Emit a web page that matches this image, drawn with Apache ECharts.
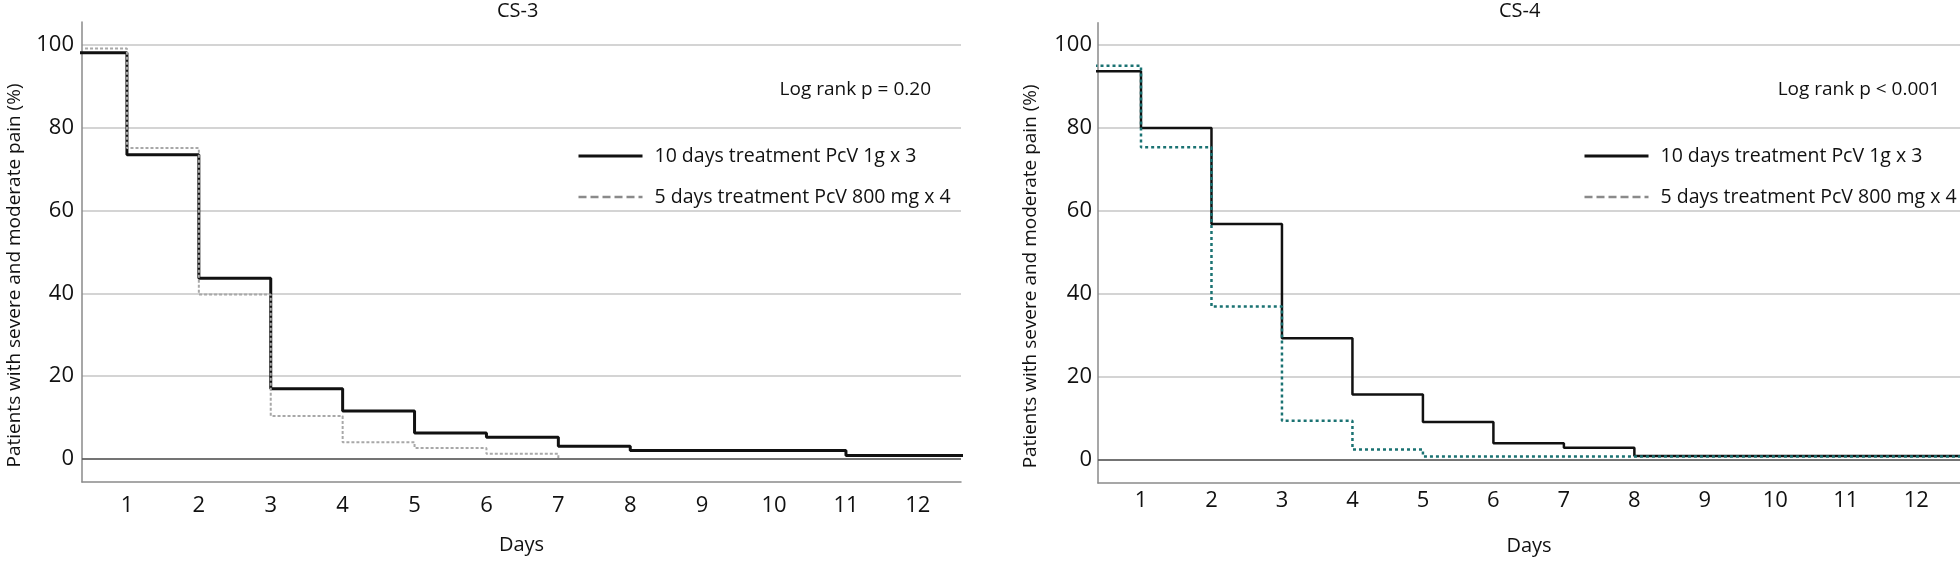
<!DOCTYPE html>
<html>
<head>
<meta charset="utf-8">
<script src="https://cdn.jsdelivr.net/npm/echarts@6/dist/echarts.min.js"></script>
<style>
html,body{margin:0;padding:0;background:#fff;}
#chart{width:1960px;height:561px;}
</style>
</head>
<body>
<div id="chart"></div>
<script>
// ---- data ----
const seriesNames = ['10 days treatment PcV 1g x 3', '5 days treatment PcV 800 mg x 4'];
const panelTitles = ['CS-3', 'CS-4'];
const pValueTexts = ['Log rank p = 0.20', 'Log rank p < 0.001'];
const yAxisName = 'Patients with severe and moderate pain (%)';
const xAxisName = 'Days';
const xTickValues = [1, 2, 3, 4, 5, 6, 7, 8, 9, 10, 11, 12];
const yTickValues = [0, 20, 40, 60, 80, 100];

// CS-3
const cs3LongDays   = [0, 1, 2, 3, 4, 5, 6, 7, 8, 11, 13];
const cs3LongValues = [98, 73.4, 43.6, 17.0, 11.6, 6.3, 5.3, 3.1, 2.1, 0.9, 0.9];
const cs3ShortDays   = [0, 1, 2, 3, 4, 5, 6, 7];
const cs3ShortValues = [99, 75, 39.7, 10.4, 4.1, 2.7, 1.3, 0];
// CS-4
const cs4LongDays   = [0, 1, 2, 3, 4, 5, 6, 7, 8, 13];
const cs4LongValues = [93.7, 80, 56.9, 29.4, 15.8, 9.2, 4.1, 3.0, 1.0, 1.0];
const cs4ShortDays   = [0, 1, 2, 3, 4, 5, 13];
const cs4ShortValues = [95, 75.4, 37.0, 9.5, 2.6, 0.9, 0.9];

function pairs(xs, ys) { return xs.map((x, i) => [x, ys[i]]); }

const FONT = 'Open Sans';
const grids = [
  { left: 82, width: 879, top: 22, bottom: 79 },
  { left: 1098, right: 0, top: 22.7, bottom: 75.7 }
];
const xRanges = [[0.375, 12.6], [0.39, 12.62]];
const xLabelMargins = [13, 7];
const yLabelMargins = [8, 6];

function xAxisFor(i) {
  return {
    type: 'value', gridIndex: i, min: xRanges[i][0], max: xRanges[i][1],
    name: xAxisName, nameLocation: 'middle', nameGap: 53,
    nameTextStyle: { fontFamily: FONT, fontSize: 20, color: '#111' },
    axisLine: { show: true, onZero: false, lineStyle: { color: '#8a8a8a', width: 1.5 } },
    axisTick: { show: false, customValues: xTickValues },
    axisLabel: { customValues: xTickValues, fontFamily: FONT, fontSize: 22, color: '#111', margin: xLabelMargins[i] },
    splitLine: { show: false }
  };
}
function yAxisFor(i) {
  return {
    type: 'value', gridIndex: i, min: -5.5, max: 105.4,
    name: yAxisName, nameLocation: 'middle', nameGap: 58, nameRotate: 90,
    nameTextStyle: { fontFamily: FONT, fontSize: 19, color: '#111', padding: [0, 47, 0, 0] },
    axisLine: { show: true, lineStyle: { color: '#8a8a8a', width: 1.5 } },
    axisTick: { show: false, customValues: yTickValues },
    axisLabel: { customValues: yTickValues, fontFamily: FONT, fontSize: 22, color: '#111', margin: yLabelMargins[i] },
    splitLine: { show: true, lineStyle: { color: '#d4d4d4', width: 2 } }
  };
}
const zeroLine = {
  silent: true, symbol: 'none', label: { show: false },
  lineStyle: { color: '#555', width: 1.5, type: 'solid' },
  data: [{ yAxis: 0 }], animation: false
};

const option = {
  animation: false,
  backgroundColor: '#fff',
  title: [
    { text: panelTitles[0], left: 497, top: 1, padding: 0, textStyle: { fontFamily: FONT, fontSize: 20, fontWeight: 'normal', color: '#111' } },
    { text: panelTitles[1], left: 1499, top: 1, padding: 0, textStyle: { fontFamily: FONT, fontSize: 20, fontWeight: 'normal', color: '#111' } },
    { text: pValueTexts[0], right: 1029, top: 80, padding: 0, textStyle: { fontFamily: FONT, fontSize: 19, fontWeight: 'normal', color: '#111' } },
    { text: pValueTexts[1], right: 20, top: 80, padding: 0, textStyle: { fontFamily: FONT, fontSize: 19, fontWeight: 'normal', color: '#111' } }
  ],
  legend: [0, 1].map(i => ({
    left: i === 0 ? 572 : 1578, top: 141, orient: 'vertical',
    itemWidth: 64, itemHeight: 24, itemGap: 21,
    textStyle: { fontFamily: FONT, fontSize: 19.5, color: '#111', padding: [0, 0, 0, 7] },
    selectedMode: false,
    data: [
      { name: seriesNames[0], itemStyle: { opacity: 0, borderWidth: 0 }, lineStyle: { color: '#111', width: 3, type: 'solid', opacity: 1 } },
      { name: seriesNames[1], itemStyle: { opacity: 0, borderWidth: 0 }, lineStyle: { color: '#8a8a8a', width: 2.5, type: [8, 4], opacity: 1 } }
    ]
  })),
  grid: grids,
  xAxis: [xAxisFor(0), xAxisFor(1)],
  yAxis: [yAxisFor(0), yAxisFor(1)],
  series: [
    { name: seriesNames[0], type: 'line', xAxisIndex: 0, yAxisIndex: 0, step: 'end', symbol: 'none',
      data: pairs(cs3LongDays, cs3LongValues), lineStyle: { color: '#111', width: 3 }, itemStyle: { color: '#111' },
      markLine: zeroLine, z: 3 },
    { name: seriesNames[1], type: 'line', xAxisIndex: 0, yAxisIndex: 0, step: 'end', symbol: 'none',
      data: pairs(cs3ShortDays, cs3ShortValues), lineStyle: { color: '#a8a8a8', width: 2, type: [3, 2] }, itemStyle: { color: '#a8a8a8' }, z: 4 },
    { name: seriesNames[0], type: 'line', xAxisIndex: 1, yAxisIndex: 1, step: 'end', symbol: 'none',
      data: pairs(cs4LongDays, cs4LongValues), lineStyle: { color: '#111', width: 2.5 }, itemStyle: { color: '#111' },
      markLine: zeroLine, z: 3 },
    { name: seriesNames[1], type: 'line', xAxisIndex: 1, yAxisIndex: 1, step: 'end', symbol: 'none',
      data: pairs(cs4ShortDays, cs4ShortValues), lineStyle: { color: '#1a7272', width: 2.5, type: [3, 3] }, itemStyle: { color: '#1a7272' }, z: 4 }
  ]
};
const chart = echarts.init(document.getElementById('chart'), null, { renderer: 'canvas' });
chart.setOption(option);
</script>
</body>
</html>
